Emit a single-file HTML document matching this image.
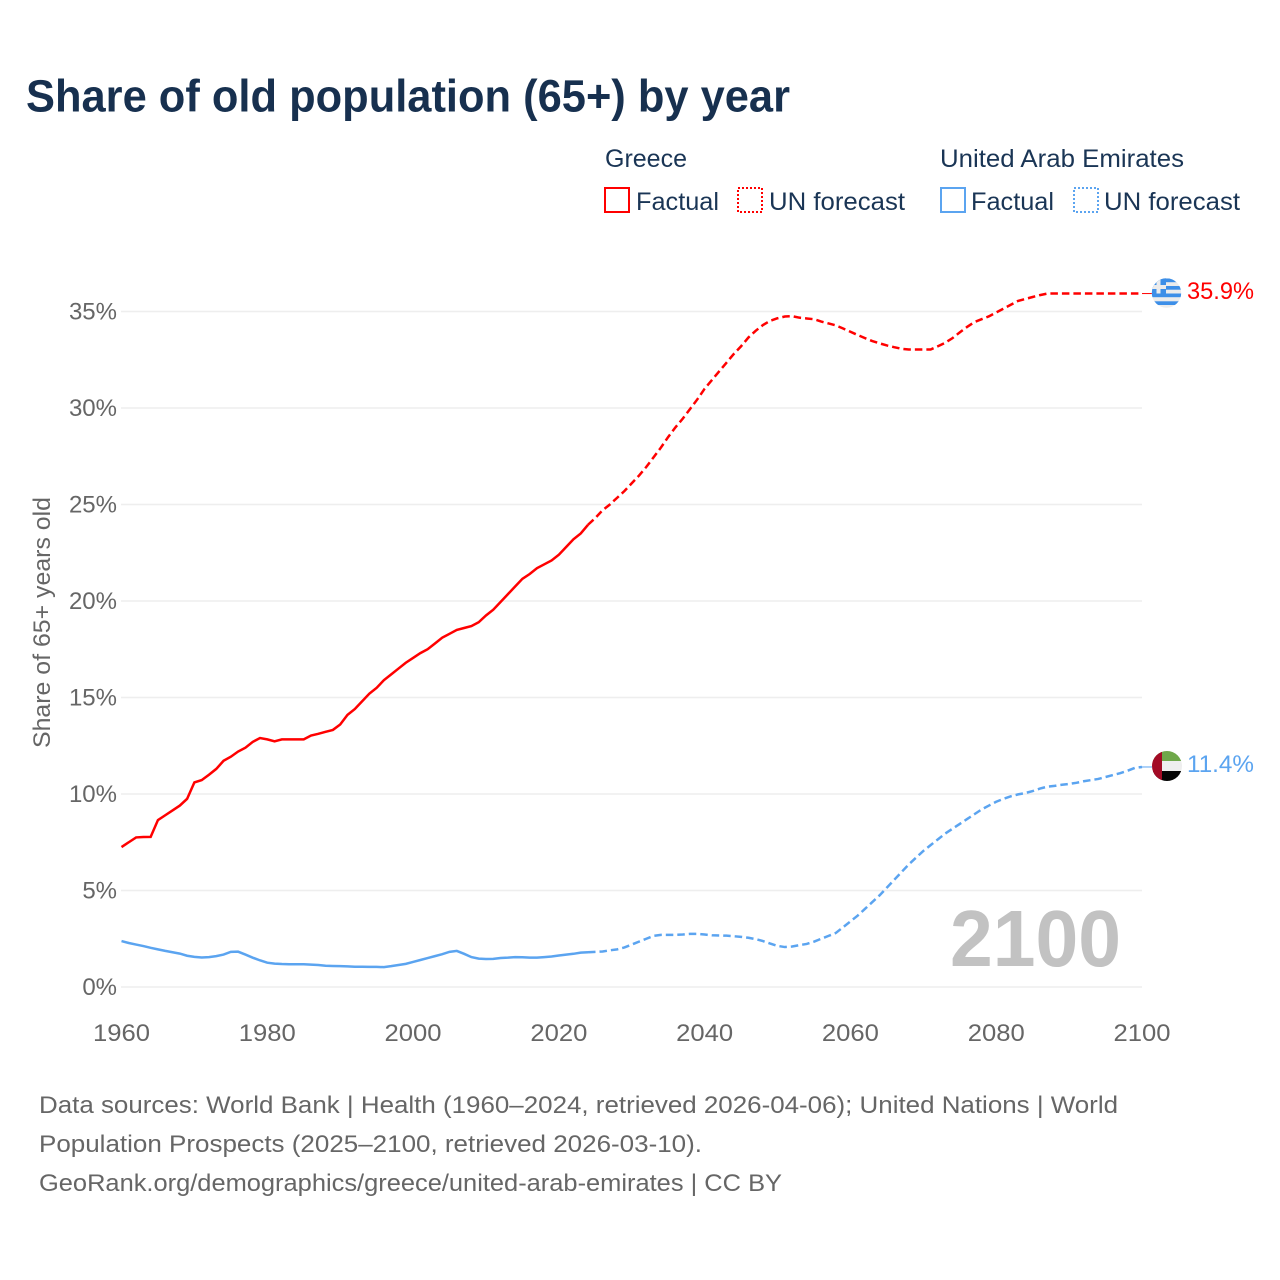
<!DOCTYPE html>
<html lang="en">
<head>
<meta charset="utf-8">
<title>Share of old population (65+) by year</title>
<style>
html,body{margin:0;padding:0;background:#fff}
svg{display:block}
text{font-family:"Liberation Sans",sans-serif}
</style>
</head>
<body>
<svg id="chart" xmlns="http://www.w3.org/2000/svg" width="1280" height="1280" viewBox="0 0 1280 1280">
  <defs>
    <clipPath id="flag-clip-gr"><circle cx="1166.500" cy="293" r="14.700"/></clipPath>
    <clipPath id="flag-clip-ae"><circle cx="1167" cy="766" r="15"/></clipPath>
  </defs>
  <text x="26" y="111.500" font-size="45" font-weight="700" fill="#17304f" textLength="764" lengthAdjust="spacingAndGlyphs">Share of old population (65+) by year</text>

  <g font-size="25" fill="#1a3555">
    <text x="605" y="167" textLength="82" lengthAdjust="spacingAndGlyphs">Greece</text>
    <rect x="605" y="188" width="24" height="24" fill="none" stroke="#ff0000" stroke-width="2"/>
    <text x="636" y="210" textLength="83" lengthAdjust="spacingAndGlyphs">Factual</text>
    <rect x="738" y="188" width="24" height="24" fill="none" stroke="#ff0000" stroke-width="2" stroke-dasharray="2 2"/>
    <text x="769" y="210" textLength="136" lengthAdjust="spacingAndGlyphs">UN forecast</text>
    <text x="940" y="167" textLength="244" lengthAdjust="spacingAndGlyphs">United Arab Emirates</text>
    <rect x="941" y="188" width="24" height="24" fill="none" stroke="#5ba4f0" stroke-width="2"/>
    <text x="971" y="210" textLength="83" lengthAdjust="spacingAndGlyphs">Factual</text>
    <rect x="1074" y="188" width="24" height="24" fill="none" stroke="#5ba4f0" stroke-width="2" stroke-dasharray="2 2"/>
    <text x="1104" y="210" textLength="136" lengthAdjust="spacingAndGlyphs">UN forecast</text>
  </g>

  <g id="grid"></g>
  <g id="yticks"></g>
  <g id="xticks"></g>
  <text transform="translate(50,622.500) rotate(-90)" text-anchor="middle" font-size="24" fill="#666666" textLength="251" lengthAdjust="spacingAndGlyphs">Share of 65+ years old</text>

  <text x="950" y="966" font-size="80" font-weight="700" fill="#c2c2c2" textLength="171" lengthAdjust="spacingAndGlyphs">2100</text>

  <g id="series"></g>

  <g clip-path="url(#flag-clip-gr)">
    <rect x="1150" y="276" width="34" height="34" fill="#ececec"/>
    <rect x="1150" y="278.500" width="34" height="3.700" fill="#3d8fe8"/>
    <rect x="1150" y="286" width="34" height="3.700" fill="#3d8fe8"/>
    <rect x="1150" y="293.500" width="34" height="3.700" fill="#3d8fe8"/>
    <rect x="1150" y="301.300" width="34" height="3.700" fill="#3d8fe8"/>
    <rect x="1150" y="276" width="16" height="17.500" fill="#3d8fe8"/>
    <rect x="1156.500" y="276" width="4" height="17.500" fill="#ececec"/>
    <rect x="1150" y="285" width="16" height="4" fill="#ececec"/>
  </g>
  <text id="label-gr" x="1187" y="299" font-size="24" fill="#ff0000" textLength="67" lengthAdjust="spacingAndGlyphs">35.9%</text>

  <g clip-path="url(#flag-clip-ae)">
    <rect x="1152" y="751" width="30" height="10" fill="#6fa84a"/>
    <rect x="1152" y="761" width="30" height="10" fill="#eeeeee"/>
    <rect x="1152" y="771" width="30" height="11" fill="#050505"/>
    <rect x="1152" y="751" width="10" height="31" fill="#a30b25"/>
  </g>
  <text id="label-ae" x="1187" y="772" font-size="24" fill="#5ba4f0" textLength="67" lengthAdjust="spacingAndGlyphs">11.4%</text>

  <g font-size="24" fill="#666666">
    <text x="39" y="1113" textLength="1079" lengthAdjust="spacingAndGlyphs">Data sources: World Bank | Health (1960–2024, retrieved 2026-04-06); United Nations | World</text>
    <text x="39" y="1152" textLength="663" lengthAdjust="spacingAndGlyphs">Population Prospects (2025–2100, retrieved 2026-03-10).</text>
    <text x="39" y="1191" textLength="743" lengthAdjust="spacingAndGlyphs">GeoRank.org/demographics/greece/united-arab-emirates | CC BY</text>
  </g>
</svg>
<script>
const yTickValues = [0, 5, 10, 15, 20, 25, 30, 35];
const xTickYears = [1960, 1980, 2000, 2020, 2040, 2060, 2080, 2100];
const factualStartYear = 1960;
const forecastStartYear = 2024;
const greeceFactual = [7.25,7.5,7.75,7.77,7.78,8.65,8.9,9.15,9.4,9.75,10.6,10.72,11.0,11.3,11.72,11.93,12.2,12.4,12.7,12.9,12.83,12.73,12.83,12.83,12.83,12.83,13.03,13.12,13.22,13.32,13.6,14.1,14.4,14.8,15.2,15.5,15.9,16.2,16.5,16.8,17.05,17.3,17.5,17.8,18.1,18.3,18.5,18.6,18.7,18.9,19.25,19.55,19.95,20.35,20.75,21.15,21.4,21.7,21.9,22.1,22.4,22.8,23.2,23.5,23.95];
const greeceForecast = [23.95,24.3,24.7,25.0,25.35,25.7,26.1,26.5,26.95,27.45,27.95,28.5,29.0,29.45,29.95,30.45,31.0,31.45,31.9,32.35,32.8,33.2,33.65,34.0,34.3,34.52,34.65,34.74,34.76,34.68,34.64,34.6,34.48,34.38,34.28,34.12,33.95,33.78,33.62,33.47,33.35,33.24,33.15,33.07,33.03,33.03,33.03,33.03,33.2,33.38,33.62,33.92,34.2,34.45,34.6,34.75,34.95,35.15,35.35,35.55,35.65,35.75,35.85,35.93,35.93,35.93,35.93,35.93,35.93,35.93,35.93,35.93,35.93,35.93,35.93,35.93,35.93];
const uaeFactual = [2.38,2.28,2.2,2.12,2.03,1.95,1.87,1.8,1.73,1.62,1.56,1.53,1.55,1.6,1.68,1.82,1.83,1.68,1.52,1.38,1.26,1.21,1.19,1.18,1.18,1.18,1.16,1.14,1.1,1.09,1.08,1.07,1.05,1.05,1.04,1.04,1.03,1.08,1.14,1.2,1.3,1.4,1.5,1.6,1.7,1.82,1.87,1.72,1.55,1.47,1.45,1.46,1.5,1.52,1.55,1.54,1.52,1.52,1.55,1.58,1.63,1.68,1.72,1.78,1.8];
const uaeForecast = [1.8,1.82,1.84,1.9,1.95,2.05,2.2,2.35,2.5,2.65,2.7,2.7,2.7,2.72,2.75,2.75,2.72,2.68,2.67,2.66,2.63,2.6,2.55,2.48,2.38,2.25,2.13,2.07,2.1,2.17,2.23,2.35,2.5,2.65,2.8,3.1,3.4,3.7,4.05,4.4,4.75,5.15,5.55,5.95,6.35,6.7,7.05,7.35,7.65,7.95,8.2,8.45,8.7,8.95,9.2,9.4,9.6,9.75,9.88,9.98,10.05,10.15,10.28,10.38,10.42,10.48,10.52,10.58,10.66,10.72,10.78,10.88,10.98,11.08,11.2,11.35,11.4];

const NS = 'http://www.w3.org/2000/svg';
function xScale(year) { return 121.5 + (year - 1960) * (1142 - 121.5) / 140; }
function yScale(value) { return 987 - value * (987 - 311.5) / 35; }

const grid = document.getElementById('grid');
const yTicks = document.getElementById('yticks');
const xTicks = document.getElementById('xticks');
const series = document.getElementById('series');

yTickValues.forEach(function (v) {
  const line = document.createElementNS(NS, 'line');
  
  
  line.setAttribute('x1', 121);
  line.setAttribute('x2', 1142);
  line.setAttribute('y1', yScale(v));
  line.setAttribute('y2', yScale(v));
  line.setAttribute('stroke', '#eeeeee');
  line.setAttribute('stroke-width', '1.6');
  grid.appendChild(line);

  const t = document.createElementNS(NS, 'text');
  
  
  t.setAttribute('x', 117);
  t.setAttribute('y', yScale(v) + 7.8);
  t.setAttribute('text-anchor', 'end');
  t.setAttribute('font-size', '24');
  t.setAttribute('fill', '#666666');
  t.textContent = v + '%';
  yTicks.appendChild(t);
});

xTickYears.forEach(function (y) {
  const t = document.createElementNS(NS, 'text');
  
  
  t.setAttribute('x', xScale(y));
  t.setAttribute('y', 1041);
  t.setAttribute('text-anchor', 'middle');
  t.setAttribute('font-size', '24');
  t.setAttribute('fill', '#666666');
  t.setAttribute('textLength', '57');
  t.setAttribute('lengthAdjust', 'spacingAndGlyphs');
  t.textContent = y;
  xTicks.appendChild(t);
});

function pointsFor(values, startYear) {
  return values.map(function (v, i) {
    return xScale(startYear + i).toFixed(2) + ',' + yScale(v).toFixed(2);
  }).join(' ');
}

const greeceFactualLine = document.createElementNS(NS, 'polyline');


greeceFactualLine.setAttribute('points', pointsFor(greeceFactual, factualStartYear));
greeceFactualLine.setAttribute('fill', 'none');
greeceFactualLine.setAttribute('stroke', '#ff0000');
greeceFactualLine.setAttribute('stroke-width', '2.5');
series.appendChild(greeceFactualLine);

const greeceForecastLine = document.createElementNS(NS, 'polyline');


greeceForecastLine.setAttribute('points', pointsFor(greeceForecast, forecastStartYear));
greeceForecastLine.setAttribute('fill', 'none');
greeceForecastLine.setAttribute('stroke', '#ff0000');
greeceForecastLine.setAttribute('stroke-width', '2.5');
greeceForecastLine.setAttribute('stroke-dasharray', '7.500 4');
series.appendChild(greeceForecastLine);

const uaeFactualLine = document.createElementNS(NS, 'polyline');


uaeFactualLine.setAttribute('points', pointsFor(uaeFactual, factualStartYear));
uaeFactualLine.setAttribute('fill', 'none');
uaeFactualLine.setAttribute('stroke', '#5ba4f0');
uaeFactualLine.setAttribute('stroke-width', '2.5');
series.appendChild(uaeFactualLine);

const uaeForecastLine = document.createElementNS(NS, 'polyline');


uaeForecastLine.setAttribute('points', pointsFor(uaeForecast, forecastStartYear));
uaeForecastLine.setAttribute('fill', 'none');
uaeForecastLine.setAttribute('stroke', '#5ba4f0');
uaeForecastLine.setAttribute('stroke-width', '2.5');
uaeForecastLine.setAttribute('stroke-dasharray', '7.500 4');
series.appendChild(uaeForecastLine);

const greeceConnector = document.createElementNS(NS, 'line');


greeceConnector.setAttribute('x1', xScale(2100));
greeceConnector.setAttribute('x2', 1153);
greeceConnector.setAttribute('y1', yScale(greeceForecast[greeceForecast.length - 1]));
greeceConnector.setAttribute('y2', yScale(greeceForecast[greeceForecast.length - 1]));
greeceConnector.setAttribute('stroke', '#ff0000');
greeceConnector.setAttribute('stroke-width', '1');
series.appendChild(greeceConnector);

const uaeConnector = document.createElementNS(NS, 'line');


uaeConnector.setAttribute('x1', xScale(2100));
uaeConnector.setAttribute('x2', 1153);
uaeConnector.setAttribute('y1', yScale(uaeForecast[uaeForecast.length - 1]));
uaeConnector.setAttribute('y2', yScale(uaeForecast[uaeForecast.length - 1]));
uaeConnector.setAttribute('stroke', '#5ba4f0');
uaeConnector.setAttribute('stroke-width', '1');
series.appendChild(uaeConnector);
</script>
</body>
</html>
